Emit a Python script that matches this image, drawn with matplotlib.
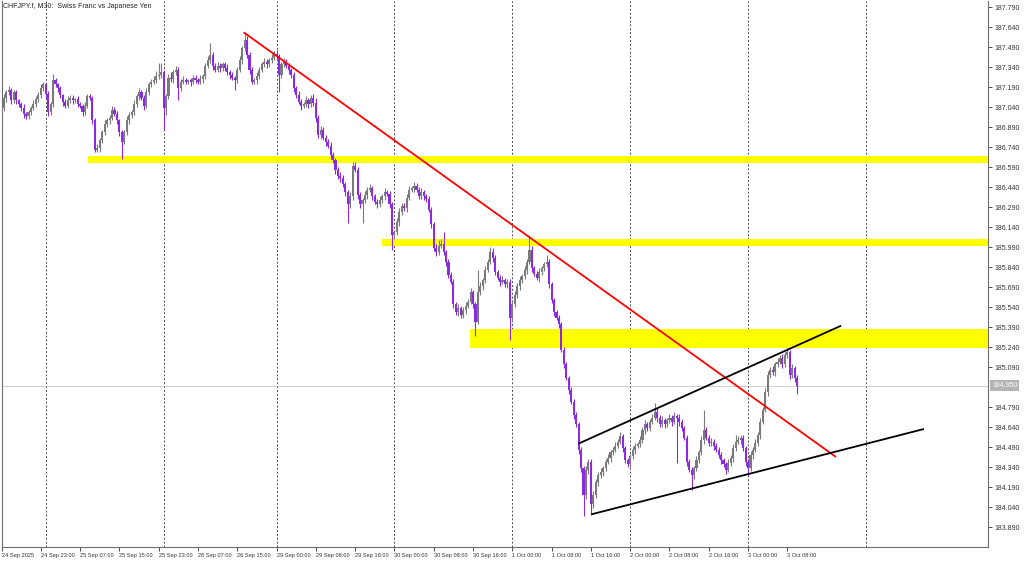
import matplotlib
matplotlib.use("Agg")
import matplotlib.pyplot as plt
import matplotlib.transforms as mtransforms
import numpy as np

plt.rcParams['font.family'] = ['Liberation Sans', 'DejaVu Sans']

# CHFJPY M30 closes, one per bar (24 Sep 15:00 -> 3 Oct 10:00), 16 bars per row
closes = [
    187.03, 187.11, 187.15, 187.17, 187.09, 187.15, 187.09, 187.06, 187.03, 186.99, 186.97, 187.00, 187.03, 187.06, 187.10, 187.13,
    187.18, 187.21, 187.14, 187.00, 187.06, 187.24, 187.21, 187.18, 187.13, 187.08, 187.05, 187.09, 187.11, 187.09, 187.10, 187.06,
    187.05, 187.00, 187.05, 187.12, 187.11, 186.94, 186.72, 186.73, 186.79, 186.85, 186.91, 186.94, 186.96, 187.02, 186.99, 186.94,
    186.85, 186.78, 186.85, 186.94, 186.98, 187.00, 187.06, 187.12, 187.15, 187.11, 187.05, 187.15, 187.21, 187.23, 187.24, 187.27,
    187.28, 187.30, 187.03, 187.12, 187.26, 187.25, 187.30, 187.32, 187.18, 187.23, 187.24, 187.23, 187.24, 187.23, 187.26, 187.24,
    187.23, 187.25, 187.27, 187.35, 187.39, 187.43, 187.35, 187.32, 187.35, 187.33, 187.36, 187.33, 187.30, 187.28, 187.26, 187.24,
    187.32, 187.39, 187.48, 187.54, 187.43, 187.32, 187.23, 187.24, 187.27, 187.32, 187.36, 187.38, 187.36, 187.39, 187.41, 187.44,
    187.42, 187.28, 187.36, 187.38, 187.35, 187.32, 187.28, 187.18, 187.13, 187.08, 187.05, 187.06, 187.09, 187.06, 187.11, 187.07,
    186.96, 186.83, 186.87, 186.81, 186.78, 186.75, 186.68, 186.64, 186.57, 186.52, 186.51, 186.46, 186.40, 186.31, 186.37, 186.60,
    186.57, 186.38, 186.31, 186.34, 186.38, 186.42, 186.43, 186.37, 186.33, 186.31, 186.34, 186.37, 186.40, 186.39, 186.31, 186.08,
    186.10, 186.18, 186.25, 186.30, 186.28, 186.36, 186.42, 186.43, 186.45, 186.42, 186.37, 186.40, 186.37, 186.35, 186.27, 186.16,
    185.98, 185.95, 186.00, 186.01, 185.95, 185.88, 185.78, 185.73, 185.56, 185.50, 185.53, 185.48, 185.52, 185.55, 185.58, 185.65,
    185.56, 185.43, 185.65, 185.70, 185.74, 185.82, 185.88, 185.95, 185.91, 185.80, 185.76, 185.73, 185.74, 185.71, 185.73, 185.46,
    185.56, 185.63, 185.70, 185.74, 185.77, 185.82, 185.88, 185.97, 185.83, 185.79, 185.76, 185.80, 185.83, 185.86, 185.88, 185.71,
    185.59, 185.50, 185.46, 185.41, 185.22, 185.11, 185.01, 184.92, 184.83, 184.73, 184.66, 184.47, 184.33, 184.13, 184.32, 184.38,
    184.06, 184.13, 184.23, 184.28, 184.30, 184.33, 184.38, 184.41, 184.45, 184.47, 184.50, 184.53, 184.57, 184.48, 184.39, 184.36,
    184.42, 184.47, 184.50, 184.51, 184.54, 184.62, 184.66, 184.63, 184.68, 184.71, 184.75, 184.71, 184.66, 184.69, 184.66, 184.69,
    184.71, 184.68, 184.72, 184.71, 184.68, 184.63, 184.56, 184.38, 184.32, 184.28, 184.33, 184.39, 184.45, 184.54, 184.62, 184.56,
    184.52, 184.53, 184.50, 184.47, 184.43, 184.39, 184.36, 184.32, 184.37, 184.41, 184.48, 184.53, 184.54, 184.56, 184.48, 184.38,
    184.33, 184.43, 184.47, 184.52, 184.58, 184.68, 184.77, 184.90, 185.03, 185.07, 185.05, 185.11, 185.13, 185.16, 185.11, 185.18,
    185.20, 185.03, 185.08, 185.01, 184.95,
]
first_open = 186.96

# wick lengths beyond the body, in pips (0.01)
wick_up = [
    2, 3, 2, 3, 1, 2, 2, 1, 2, 3, 1, 2, 2, 3, 2, 2,
    3, 2, 1, 2, 2, 5, 2, 1, 2, 1, 2, 3, 2, 2, 1, 2,
    2, 1, 3, 2, 2, 1, 2, 3, 2, 2, 3, 2, 2, 3, 2, 2,
    1, 2, 2, 3, 2, 2, 3, 2, 3, 2, 2, 3, 2, 2, 3, 4,
    9, 7, 2, 2, 3, 4, 2, 3, 2, 2, 3, 2, 1, 2, 2, 2,
    2, 3, 2, 2, 3, 9, 2, 2, 3, 2, 2, 2, 3, 2, 2, 1,
    2, 3, 2, 6, 3, 2, 2, 2, 3, 2, 2, 3, 2, 2, 3, 2,
    3, 2, 2, 3, 2, 2, 1, 2, 2, 3, 2, 2, 3, 2, 2, 3,
    4, 2, 3, 2, 2, 2, 3, 2, 2, 2, 3, 2, 2, 2, 3, 3,
    3, 2, 2, 2, 3, 2, 3, 2, 2, 2, 3, 2, 3, 2, 2, 2,
    2, 3, 3, 2, 2, 3, 3, 2, 3, 2, 2, 3, 2, 2, 2, 2,
    2, 3, 4, 4, 9, 2, 2, 2, 2, 2, 3, 2, 2, 3, 2, 3,
    2, 2, 17, 3, 2, 3, 2, 4, 3, 2, 2, 2, 3, 2, 2, 2,
    2, 3, 2, 3, 2, 3, 2, 10, 3, 2, 2, 3, 2, 2, 5, 2,
    2, 2, 2, 2, 2, 2, 2, 1, 2, 2, 2, 2, 2, 2, 3, 2,
    2, 3, 2, 2, 3, 2, 2, 3, 2, 2, 3, 2, 3, 2, 2, 2,
    2, 3, 2, 2, 3, 2, 3, 2, 2, 3, 7, 3, 2, 3, 2, 2,
    3, 2, 3, 2, 3, 2, 2, 2, 2, 2, 2, 3, 2, 3, 15, 2,
    2, 3, 2, 2, 2, 2, 2, 2, 3, 2, 3, 5, 3, 2, 2, 2,
    2, 3, 2, 3, 2, 3, 2, 3, 3, 2, 3, 2, 3, 2, 3, 2,
    3, 2, 3, 2, 2,
]
wick_dn = [
    3, 2, 3, 2, 3, 2, 3, 2, 2, 3, 2, 2, 2, 1, 2, 2,
    2, 2, 3, 3, 2, 2, 2, 3, 2, 3, 2, 2, 2, 3, 2, 2,
    2, 3, 2, 2, 2, 3, 2, 2, 3, 2, 2, 2, 3, 2, 2, 3,
    3, 13, 2, 2, 3, 2, 2, 2, 3, 2, 3, 2, 2, 2, 2, 2,
    2, 2, 16, 5, 2, 2, 3, 2, 9, 2, 2, 2, 2, 3, 2, 2,
    2, 2, 3, 2, 2, 2, 3, 2, 2, 3, 2, 2, 2, 3, 2, 7,
    2, 2, 3, 2, 2, 3, 2, 2, 3, 2, 2, 2, 3, 2, 2, 2,
    2, 13, 2, 2, 2, 3, 2, 3, 2, 2, 3, 2, 2, 3, 2, 2,
    3, 2, 3, 2, 3, 2, 3, 2, 3, 2, 3, 2, 3, 14, 3, 3,
    2, 3, 3, 14, 2, 3, 2, 3, 2, 3, 2, 2, 3, 2, 3, 11,
    3, 2, 3, 2, 2, 3, 2, 2, 3, 2, 2, 2, 3, 2, 2, 3,
    2, 3, 2, 2, 2, 3, 2, 2, 3, 2, 3, 2, 2, 3, 2, 2,
    3, 11, 2, 2, 3, 2, 2, 2, 3, 2, 2, 3, 2, 2, 3, 17,
    3, 2, 2, 3, 2, 2, 3, 2, 3, 2, 2, 3, 2, 2, 2, 3,
    2, 3, 2, 3, 2, 3, 2, 3, 2, 3, 2, 3, 3, 16, 3, 3,
    8, 3, 2, 3, 2, 3, 2, 2, 3, 2, 2, 2, 2, 3, 2, 2,
    2, 2, 3, 2, 2, 2, 3, 2, 2, 2, 2, 3, 2, 2, 3, 2,
    2, 3, 2, 34, 3, 2, 2, 3, 2, 11, 3, 2, 2, 2, 3, 2,
    2, 2, 3, 2, 2, 3, 2, 3, 2, 2, 3, 2, 2, 3, 2, 3,
    6, 2, 3, 2, 2, 3, 2, 2, 3, 2, 2, 3, 2, 2, 3, 2,
    2, 3, 2, 3, 6,
]

x_labels = ["24 Sep 2025", "24 Sep 23:00", "25 Sep 07:00", "25 Sep 15:00", "25 Sep 23:00",
            "26 Sep 07:00", "26 Sep 15:00", "29 Sep 00:00", "29 Sep 08:00", "29 Sep 16:00",
            "30 Sep 00:00", "30 Sep 08:00", "30 Sep 16:00", "1 Oct 00:00", "1 Oct 08:00",
            "1 Oct 16:00", "2 Oct 00:00", "2 Oct 08:00", "2 Oct 16:00", "3 Oct 00:00", "3 Oct 08:00"]
x_label_bars = [0, 16, 32, 48, 64, 80, 96, 112, 128, 144, 160, 176, 192, 208, 224, 240, 256, 272, 288, 304, 320]
day_separators = [18, 66, 112, 160, 208, 256, 304, 352]

y_ticks = [187.79, 187.64, 187.49, 187.34, 187.19, 187.04, 186.89, 186.74, 186.59, 186.44,
           186.29, 186.14, 185.99, 185.84, 185.69, 185.54, 185.39, 185.24, 185.09,
           184.79, 184.64, 184.49, 184.34, 184.19, 184.04, 183.89]
current_price = 184.95

# support / resistance zones: (start bar, low, high)
zones = [(35.1, 186.62, 186.67), (155.1, 185.995, 186.05), (190.9, 185.235, 185.375)]
# trend lines: ((bar, price), (bar, price), colour)
trend_lines = [((98.6, 187.60), (339.8, 184.415), "red"),
               ((234.9, 184.515), (341.9, 185.40), "black"),
               ((240.2, 183.985), (375.6, 184.625), "black")]

# build OHLC
closes = np.array(closes)
opens = np.concatenate([[first_open], closes[:-1]])
highs = np.maximum(opens, closes) + np.array(wick_up) * 0.01
lows = np.minimum(opens, closes) - np.array(wick_dn) * 0.01
bars = np.arange(len(closes))

fig = plt.figure(figsize=(10.24, 5.61), dpi=100)
ax = fig.add_axes([1.5 / 1024, 14 / 561, 986.5 / 1024, 546 / 561])
ax.set_xlim(0.33, 401.7)
ax.set_ylim(183.74, 187.835)

# zones
for start, lo, hi in zones:
    ax.fill_between([start, 402], lo, hi, color="#ffff00", lw=0, zorder=1)

# period separators
for b in day_separators:
    ax.axvline(b, color="#4a4a4a", lw=0.7, ls=(0, (2, 2)), zorder=0)

# current price line
ax.axhline(current_price, color="#c8c8c8", lw=0.6, zorder=1)

# candles
up = closes >= opens
col = np.where(up, "#7a7a7a", "#8a2be2")
ax.vlines(bars, lows, highs, colors=col, lw=0.8, zorder=3)
body = np.maximum(np.abs(closes - opens), 0.005)
ax.bar(bars, body, bottom=np.minimum(opens, closes), width=0.85, color=col, lw=0, zorder=3)

# trend lines
for (x1, y1), (x2, y2), c in trend_lines:
    ax.plot([x1, x2], [y1, y2], color=c, lw=1.3, zorder=4, solid_capstyle="butt")

# axes look
for s in ax.spines.values():
    s.set_color("#6e6e6e")
    s.set_linewidth(0.8)
ax.spines["top"].set_visible(False)

ax.yaxis.tick_right()
ax.set_yticks(y_ticks)
ax.set_yticklabels([f"{v:.3f}" for v in y_ticks])
ax.tick_params(axis="y", length=3, width=0.6, pad=1.5, labelsize=5, colors="#333333")

ax.set_xticks(x_label_bars)
ax.set_xticklabels(x_labels)
ax.tick_params(axis="x", length=3, width=0.6, pad=1.5, labelsize=4.1, colors="#333333")
for lab in ax.get_xticklabels():
    lab.set_ha("left")

# current price tag on the right scale
trans = mtransforms.blended_transform_factory(ax.transAxes, ax.transData)
ax.text(1.0 + 4 / 986.5, current_price, f"{current_price:.3f}", transform=trans, fontsize=5,
        color="white", va="center", ha="left", clip_on=False,
        bbox=dict(boxstyle="square,pad=0.25", fc="#b4b4b4", ec="none"))

fig.text(3 / 1024, 1 - 6 / 561, "CHFJPY.f, M30:  Swiss Franc vs Japanese Yen",
         fontsize=5, color="#222222", va="center", ha="left")

fig.savefig("out.png", dpi=100)
